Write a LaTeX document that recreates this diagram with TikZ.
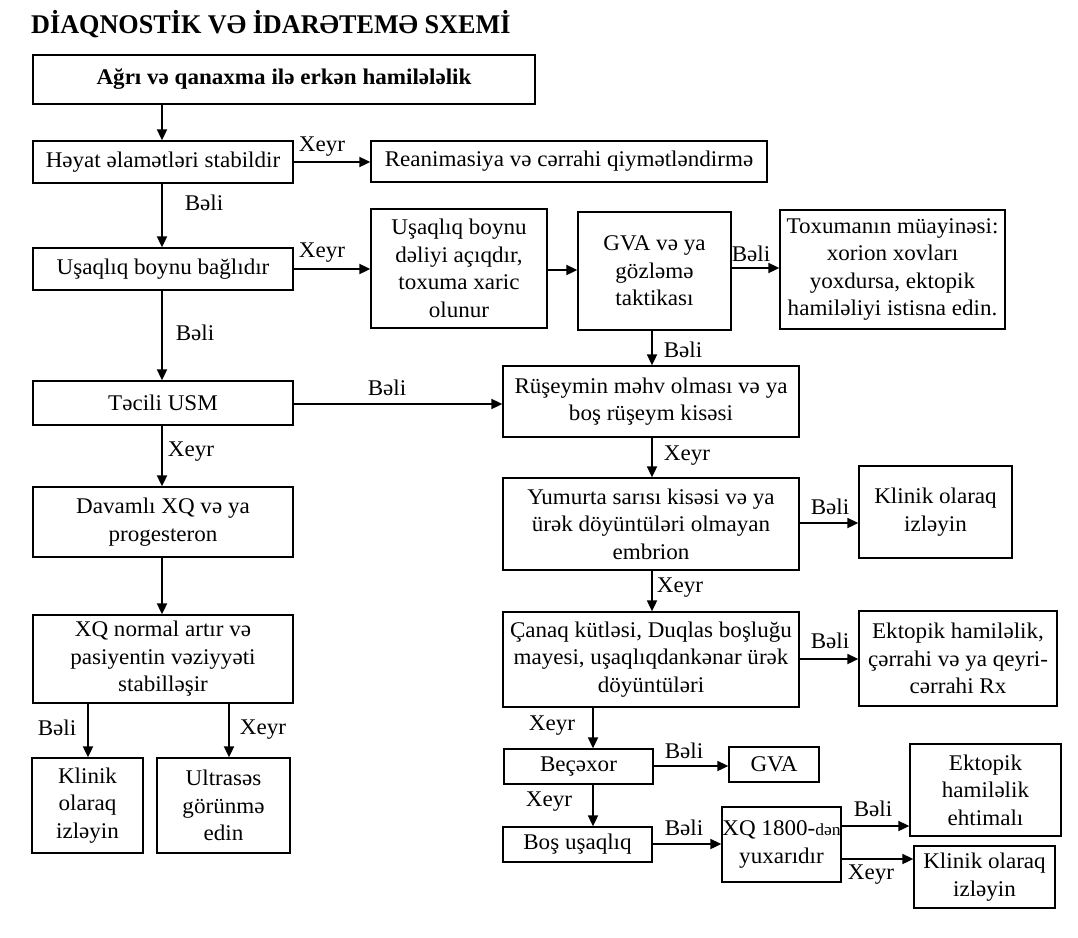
\documentclass[tikz,border=0pt]{standalone}
\usepackage{fontspec}
\setmainfont{Liberation Serif}[FakeStretch=1.03]
\newfontfamily\titlefont{Liberation Serif}[FakeStretch=0.97]
\usetikzlibrary{arrows.meta}
\newcommand\bx[6]{\node[box, minimum width={#4-#2}, minimum height={#5-#3}] (#1) at ({(#2+#4)/2},{(#3+#5)/2}) {#6};}
\begin{document}
\begin{tikzpicture}[x=1pt,y=-1pt,
 box/.style={draw=black, line width=1.3pt, align=center, inner sep=0pt, font=\fontsize{22.4}{27.5}\selectfont},
 arr/.style={-{Triangle[length=11pt,width=10pt]}, line width=1.8pt},
 lab/.style={font=\fontsize{22.4}{27.5}\selectfont, inner sep=0pt}]
\useasboundingbox (0,0) rectangle (1078,937);
\node[anchor=west, inner sep=0pt, font=\titlefont\fontsize{27}{30}\selectfont\bfseries] (title) at (31,24) {DİAQNOSTİK VƏ İDARƏTEMƏ SXEMİ};
\bx{B1}{33}{55}{535}{104}{\fontsize{22.4}{27}\selectfont\bfseries Ağrı və qanaxma ilə erkən hamilələlik}
\bx{B2}{33}{141}{293}{183}{Həyat əlamətləri stabildir}
\bx{B3}{371}{141}{767}{182}{Reanimasiya və cərrahi qiymətləndirmə}
\bx{B4}{33}{248}{293}{290}{Uşaqlıq boynu bağlıdır}
\bx{B5}{371}{209}{547}{328}{Uşaqlıq boynu\\dəliyi açıqdır,\\toxuma xaric\\olunur}
\bx{B6}{578}{212}{731}{330}{GVA və ya\\gözləmə\\taktikası}
\bx{B7}{780}{210}{1005}{329}{Toxumanın müayinəsi:\\xorion xovları\\yoxdursa, ektopik\\hamiləliyi istisna edin.}
\bx{B8}{503}{366}{799}{437}{Rüşeymin məhv olması və ya\\boş rüşeym kisəsi}
\bx{B9}{33}{381}{293}{425}{Təcili USM}
\bx{B10}{33}{487}{293}{557}{Davamlı XQ və ya\\progesteron}
\bx{B11}{33}{615}{293}{703}{XQ normal artır və\\pasiyentin vəziyyəti\\stabilləşir}
\bx{B12}{32}{758}{143}{853}{Klinik\\olaraq\\izləyin}
\bx{B13}{157}{758}{290}{853}{Ultrasəs\\görünmə\\edin}
\bx{B14}{503}{478}{799}{570}{Yumurta sarısı kisəsi və ya\\ürək döyüntüləri olmayan\\embrion}
\bx{B15}{859}{466}{1012}{558}{Klinik olaraq\\izləyin}
\bx{B16}{503}{612}{799}{707}{Çanaq kütləsi, Duqlas boşluğu\\mayesi, uşaqlıqdankənar ürək\\döyüntüləri}
\bx{B17}{859}{611}{1057}{706}{Ektopik hamiləlik,\\çərrahi və ya qeyri-\\cərrahi Rx}
\bx{B18}{504}{749}{653}{784}{Beçəxor}
\bx{B19}{729}{747}{819}{782}{GVA}
\bx{B20}{503}{827}{652}{862}{Boş uşaqlıq}
\bx{B21}{722}{807}{841}{882}{XQ 1800-{\fontsize{17}{20}\selectfont dən}\\yuxarıdır}
\bx{B22}{910}{744}{1061}{836}{Ektopik\\hamiləlik\\ehtimalı}
\bx{B23}{914}{846}{1055}{908}{Klinik olaraq\\izləyin}
% columns and rows for connectors
\coordinate (c162) at (162,0);
\coordinate (c88) at (88,0);
\coordinate (c229) at (229,0);
\coordinate (c652) at (652,0);
\coordinate (c593) at (593,0);
\coordinate (r162) at (0,162);
\coordinate (r269) at (0,269);
\coordinate (r270) at (0,270);
\coordinate (r268) at (0,268);
\coordinate (r404) at (0,404);
\coordinate (r523) at (0,523);
\coordinate (r659) at (0,659);
\coordinate (r766) at (0,766);
\coordinate (r844) at (0,844);
\coordinate (r826) at (0,826);
\coordinate (r859) at (0,859);
% connectors
\draw[arr] (B1.south -| c162) -- (B2.north -| c162);
\draw[arr] (B2.east |- r162) -- (B3.west |- r162);
\draw[arr] (B2.south -| c162) -- (B4.north -| c162);
\draw[arr] (B4.east |- r269) -- (B5.west |- r269);
\draw[arr] (B4.south -| c162) -- (B9.north -| c162);
\draw[arr] (B5.east |- r270) -- (B6.west |- r270);
\draw[arr] (B6.east |- r268) -- (B7.west |- r268);
\draw[arr] (B6.south -| c652) -- (B8.north -| c652);
\draw[arr] (B9.east |- r404) -- (B8.west |- r404);
\draw[arr] (B9.south -| c162) -- (B10.north -| c162);
\draw[arr] (B10.south -| c162) -- (B11.north -| c162);
\draw[arr] (B11.south -| c88) -- (B12.north -| c88);
\draw[arr] (B11.south -| c229) -- (B13.north -| c229);
\draw[arr] (B8.south -| c652) -- (B14.north -| c652);
\draw[arr] (B14.east |- r523) -- (B15.west |- r523);
\draw[arr] (B14.south -| c652) -- (B16.north -| c652);
\draw[arr] (B16.east |- r659) -- (B17.west |- r659);
\draw[arr] (B16.south -| c593) -- (B18.north -| c593);
\draw[arr] (B18.east |- r766) -- (B19.west |- r766);
\draw[arr] (B18.south -| c593) -- (B20.north -| c593);
\draw[arr] (B20.east |- r844) -- (B21.west |- r844);
\draw[arr] (B21.east |- r826) -- (B22.west |- r826);
\draw[arr] (B21.east |- r859) -- (B23.west |- r859);
% labels
\node[lab] (L1) at (322,147) {Xeyr};
\node[lab] (L2) at (204,203) {Bəli};
\node[lab] (L3) at (322,253) {Xeyr};
\node[lab] (L4) at (195,333) {Bəli};
\node[lab] (L5) at (751,254) {Bəli};
\node[lab] (L6) at (683,350) {Bəli};
\node[lab] (L7) at (387,388) {Bəli};
\node[lab] (L8) at (191,452) {Xeyr};
\node[lab] (L9) at (57,728) {Bəli};
\node[lab] (L10) at (263,730) {Xeyr};
\node[lab] (L11) at (687,456) {Xeyr};
\node[lab] (L12) at (830,507) {Bəli};
\node[lab] (L13) at (680,588) {Xeyr};
\node[lab] (L14) at (830,641) {Bəli};
\node[lab] (L15) at (552,726) {Xeyr};
\node[lab] (L16) at (684,751) {Bəli};
\node[lab] (L17) at (549,802) {Xeyr};
\node[lab] (L18) at (684,828) {Bəli};
\node[lab] (L19) at (873,809) {Bəli};
\node[lab] (L20) at (871,875) {Xeyr};
\end{tikzpicture}
\end{document}
